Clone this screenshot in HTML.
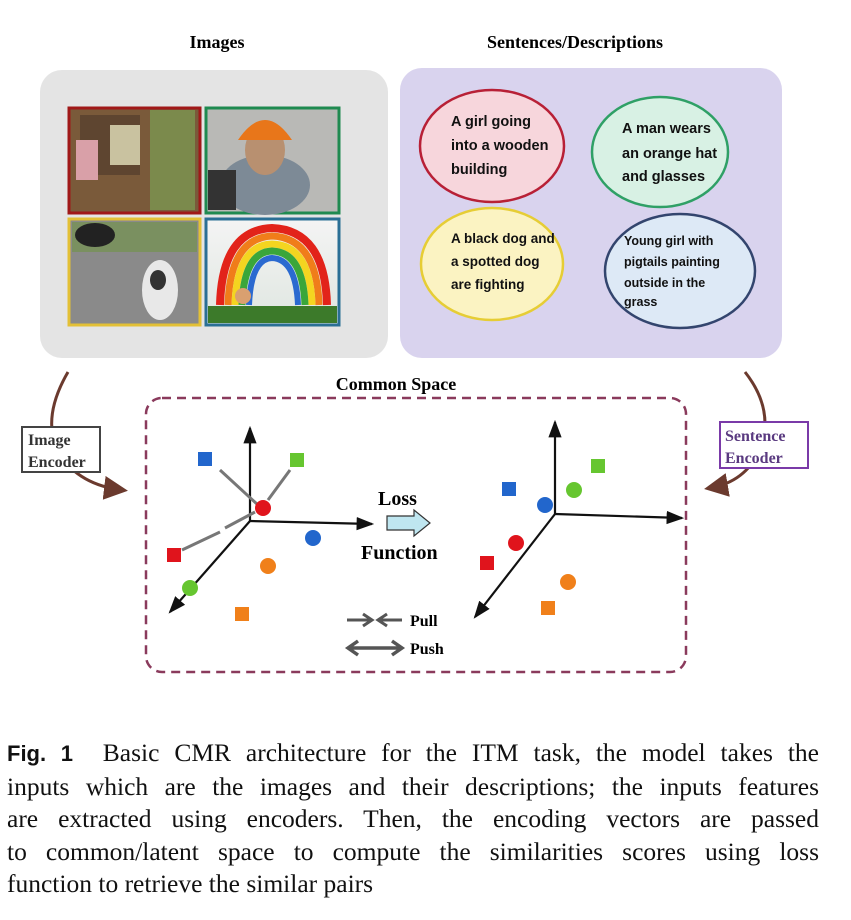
<!DOCTYPE html>
<html><head><meta charset="utf-8"><style>
body{margin:0;background:#fff;width:851px;height:920px;overflow:hidden;position:relative}
.cap{position:absolute;left:7px;top:737px;width:812px;font:25.5px/32.6px "Liberation Serif",serif;color:#111}
.cap div{text-align:justify;text-align-last:justify;white-space:nowrap}
.cap div.l{text-align-last:left}
.cap b{font-family:"Liberation Sans",sans-serif;font-weight:bold;font-size:22px}
</style></head><body>
<svg width="851" height="720" style="position:absolute;left:0;top:0" font-family="Liberation Serif,serif">
<defs>
<marker id="a" markerWidth="8" markerHeight="8" refX="7" refY="4" orient="auto"><path d="M0,1 L8,4 L0,7z" fill="#111"/></marker>
<marker id="b" markerWidth="8" markerHeight="8" refX="6" refY="4" orient="auto"><path d="M0,0 L8,4 L0,8z" fill="#6b3a2e"/></marker>
<linearGradient id="rb" x1="0" y1="0" x2="0" y2="1"><stop offset="0" stop-color="#f4f4f4"/><stop offset="1" stop-color="#dfe6e0"/></linearGradient>
</defs>
<text x="217" y="48" font-size="18" font-weight="bold" text-anchor="middle">Images</text>
<text x="575" y="48" font-size="18" font-weight="bold" text-anchor="middle">Sentences/Descriptions</text>
<rect x="40" y="70" width="348" height="288" rx="22" fill="#e4e4e4"/>
<rect x="400" y="68" width="382" height="290" rx="22" fill="#d9d3ee"/>
<rect x="69" y="108" width="131" height="105" fill="#7a5a3a" stroke="#a01818" stroke-width="3"/>
<rect x="80" y="115" width="60" height="60" fill="#5e4530"/><rect x="110" y="125" width="30" height="40" fill="#c9c2a0"/>
<rect x="76" y="140" width="22" height="40" fill="#d9a0a8"/><rect x="150" y="110" width="45" height="100" fill="#7b8a4c"/>
<rect x="206" y="108" width="133" height="105" fill="#b9b9b6" stroke="#1f8a50" stroke-width="3"/>
<ellipse cx="265" cy="185" rx="45" ry="30" fill="#7d8a96"/><ellipse cx="265" cy="150" rx="20" ry="25" fill="#b89070"/>
<path d="M238,140 Q265,100 292,140 Z" fill="#e8761a"/><rect x="208" y="170" width="28" height="40" fill="#333"/>
<rect x="69" y="219" width="131" height="106" fill="#8a8a8a" stroke="#e3c036" stroke-width="3"/>
<rect x="72" y="222" width="125" height="30" fill="#7a9060"/><ellipse cx="95" cy="235" rx="20" ry="12" fill="#222"/>
<ellipse cx="160" cy="290" rx="18" ry="30" fill="#e8e8e8"/><ellipse cx="158" cy="280" rx="8" ry="10" fill="#333"/>
<rect x="206" y="219" width="133" height="106" fill="url(#rb)" stroke="#2a6f95" stroke-width="3"/>
<path d="M220,305 Q222,230 272,228 Q325,230 327,305" fill="none" stroke="#e2231a" stroke-width="8"/>
<path d="M228,305 Q230,238 272,236 Q317,238 319,305" fill="none" stroke="#f07d1a" stroke-width="7"/>
<path d="M235,305 Q237,245 272,244 Q310,245 312,305" fill="none" stroke="#f4d520" stroke-width="7"/>
<path d="M242,305 Q244,252 272,251 Q303,252 305,305" fill="none" stroke="#3aa63a" stroke-width="7"/>
<path d="M249,305 Q251,259 272,258 Q296,259 298,305" fill="none" stroke="#2b6ad0" stroke-width="6"/>
<rect x="208" y="306" width="129" height="17" fill="#3c7a2a"/><circle cx="243" cy="296" r="8" fill="#d9a070"/>
<g font-family="Liberation Sans,sans-serif" font-size="14.5" fill="#111" font-weight="bold">
<ellipse cx="492" cy="146" rx="72" ry="56" fill="#f7d6dc" stroke="#b82036" stroke-width="2.5"/>
<text x="451" y="126">A  girl  going</text><text x="451" y="150">into a wooden</text><text x="451" y="174">building</text>
<ellipse cx="660" cy="152" rx="68" ry="55" fill="#d8f1e4" stroke="#2fa066" stroke-width="2.5"/>
<text x="622" y="133">A man wears</text><text x="622" y="158">an orange hat</text><text x="622" y="181">and glasses</text>
<ellipse cx="492" cy="264" rx="71" ry="56" fill="#fbf3c2" stroke="#e6cd35" stroke-width="2.5"/>
<text x="451" y="243" font-size="13.5">A black dog and</text><text x="451" y="266" font-size="13.5">a spotted dog</text><text x="451" y="289" font-size="13.5">are fighting</text>
<ellipse cx="680" cy="271" rx="75" ry="57" fill="#dde9f6" stroke="#33456e" stroke-width="2.5"/>
<g font-size="12.5"><text x="624" y="245">Young  girl  with</text><text x="624" y="266">pigtails  painting</text><text x="624" y="287">outside   in   the</text><text x="624" y="306">grass</text></g>
</g>
<text x="396" y="390" font-size="18" font-weight="bold" text-anchor="middle">Common Space</text>
<rect x="146" y="398" width="540" height="274" rx="16" fill="#fff" stroke="#8a3a5c" stroke-width="2.5" stroke-dasharray="9,6"/>
<path d="M68,372 Q40,420 60,455 Q80,485 122,490" fill="none" stroke="#6b3a2e" stroke-width="3" marker-end="url(#b)"/>
<rect x="22" y="427" width="78" height="45" fill="#fff" stroke="#444" stroke-width="2"/>
<text x="28" y="445" font-size="16" font-weight="bold" fill="#333">Image</text><text x="28" y="467" font-size="16" font-weight="bold" fill="#333">Encoder</text>
<path d="M745,372 Q775,410 760,450 Q745,482 710,488" fill="none" stroke="#6b3a2e" stroke-width="3" marker-end="url(#b)"/>
<rect x="720" y="422" width="88" height="46" fill="#fff" stroke="#7a3aa8" stroke-width="2"/>
<text x="725" y="441" font-size="16" font-weight="bold" fill="#5a3a80">Sentence</text><text x="725" y="463" font-size="16" font-weight="bold" fill="#5a3a80">Encoder</text>
<g stroke="#111" stroke-width="2.2" fill="none">
<line x1="250" y1="521" x2="250" y2="428" marker-end="url(#a)"/>
<line x1="250" y1="521" x2="372" y2="524" marker-end="url(#a)"/>
<line x1="250" y1="521" x2="170" y2="612" marker-end="url(#a)"/>
<line x1="555" y1="514" x2="555" y2="422" marker-end="url(#a)"/>
<line x1="555" y1="514" x2="682" y2="518" marker-end="url(#a)"/>
<line x1="555" y1="514" x2="475" y2="617" marker-end="url(#a)"/>
</g>
<g stroke="#777" stroke-width="3" fill="none">
<line x1="258" y1="505" x2="220" y2="470"/><line x1="268" y1="500" x2="290" y2="470"/>
<line x1="255" y1="512" x2="225" y2="528"/><line x1="182" y1="550" x2="220" y2="532"/>
</g>
<rect x="198" y="452" width="14" height="14" fill="#2266cc"/><rect x="290" y="453" width="14" height="14" fill="#66c630"/>
<circle cx="263" cy="508" r="8" fill="#e0141c"/><circle cx="313" cy="538" r="8" fill="#2266cc"/>
<rect x="167" y="548" width="14" height="14" fill="#e0141c"/><circle cx="190" cy="588" r="8" fill="#66c630"/>
<circle cx="268" cy="566" r="8" fill="#f0801a"/><rect x="235" y="607" width="14" height="14" fill="#f0801a"/>
<rect x="502" y="482" width="14" height="14" fill="#2266cc"/><rect x="591" y="459" width="14" height="14" fill="#66c630"/>
<circle cx="574" cy="490" r="8" fill="#66c630"/><circle cx="545" cy="505" r="8" fill="#2266cc"/>
<circle cx="516" cy="543" r="8" fill="#e0141c"/><rect x="480" y="556" width="14" height="14" fill="#e0141c"/>
<circle cx="568" cy="582" r="8" fill="#f0801a"/><rect x="541" y="601" width="14" height="14" fill="#f0801a"/>
<text x="378" y="505" font-size="20" font-weight="bold">Loss</text>
<path d="M387,516 L414,516 L414,510 L430,523 L414,536 L414,530 L387,530 Z" fill="#bfe6f0" stroke="#333" stroke-width="1.2"/>
<text x="361" y="559" font-size="20" font-weight="bold">Function</text>
<path d="M347,620 L372,620 M363,614 L372,620 L363,626 M402,620 L378,620 M387,614 L378,620 L387,626" stroke="#555" stroke-width="3" fill="none"/>
<text x="410" y="626" font-size="16" font-weight="bold">Pull</text>
<path d="M350,648 L400,648 M358,641 L348,648 L358,655 M392,641 L402,648 L392,655" stroke="#555" stroke-width="3.5" fill="none"/>
<text x="410" y="654" font-size="16" font-weight="bold">Push</text>
</svg>
<div class="cap">
<div><b>Fig. 1</b>&nbsp; Basic CMR architecture for the ITM task, the model takes the</div>
<div>inputs which are the images and their descriptions; the inputs features</div>
<div>are extracted using encoders. Then, the encoding vectors are passed</div>
<div>to common/latent space to compute the similarities scores using loss</div>
<div class="l">function to retrieve the similar pairs</div>
</div>
</body></html>
